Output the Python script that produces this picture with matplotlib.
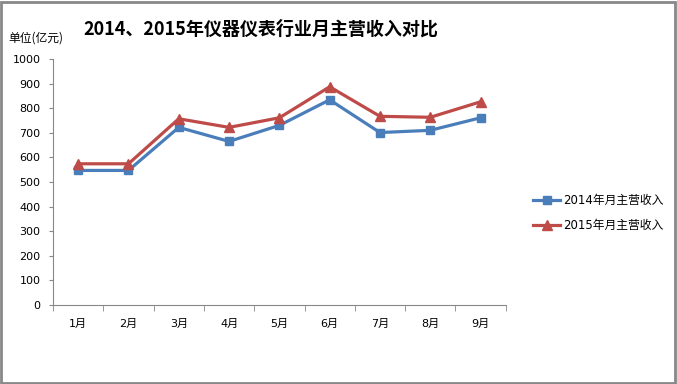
import matplotlib
matplotlib.use('Agg')
import matplotlib.pyplot as plt
from matplotlib.patches import Rectangle

plt.rcParams['font.family'] = ['DejaVu Sans', 'Noto Sans CJK SC']

# 数据
meses = ['1月', '2月', '3月', '4月', '5月', '6月', '7月', '8月', '9月']
ingreso_2014 = [547, 547, 722, 665, 730, 834, 701, 710, 761]
ingreso_2015 = [574, 574, 757, 722, 761, 887, 767, 763, 826]
etiquetas = ['2014年月主营收入', '2015年月主营收入']

fig = plt.figure(figsize=(6.77, 3.84), dpi=100)
ax = fig.add_axes([0.0783, 0.2057, 0.6687, 0.6407])

x = list(range(len(meses)))
ax.plot(x, ingreso_2014, color='#4A7EBB', linewidth=2.3, marker='s', markersize=6,
        label=etiquetas[0])
ax.plot(x, ingreso_2015, color='#BE4B48', linewidth=2.3, marker='^', markersize=7,
        label=etiquetas[1])

ax.set_xlim(-0.5, len(meses) - 0.5)
ax.set_ylim(0, 1000)
ax.set_yticks(range(0, 1001, 100))
ax.tick_params(axis='y', labelsize=8, length=3, color='#888888', pad=6)

# categorías: marcas entre categorías, etiquetas en el centro
ax.set_xticks(x)
ax.set_xticklabels(meses, fontsize=8)
ax.tick_params(axis='x', which='major', length=0, pad=10)
ax.set_xticks([i - 0.5 for i in range(len(meses) + 1)], minor=True)
ax.tick_params(axis='x', which='minor', length=4, color='#888888')

for lado in ['top', 'right']:
    ax.spines[lado].set_visible(False)
for lado in ['left', 'bottom']:
    ax.spines[lado].set_color('#888888')

fig.text(0.386, 0.925, '2014、2015年仪器仪表行业月主营收入对比', ha='center', va='center',
         fontsize=13, fontweight='bold', family=['Noto Sans CJK SC'])
fig.text(0.012, 0.9, '单位(亿元)', ha='left', va='center', fontsize=8.5,
         family=['Noto Sans CJK SC'])

fig.legend(loc='upper left', bbox_to_anchor=(0.772, 0.522), frameon=False, fontsize=8.5,
           handlelength=2.3, handletextpad=0.2, labelspacing=1.0)

# marco gris
fig.patches.append(Rectangle((0.002, 0.003), 0.995, 0.993, transform=fig.transFigure,
                             fill=False, edgecolor='#888888', linewidth=2))

fig.savefig('out.png', dpi=100)
